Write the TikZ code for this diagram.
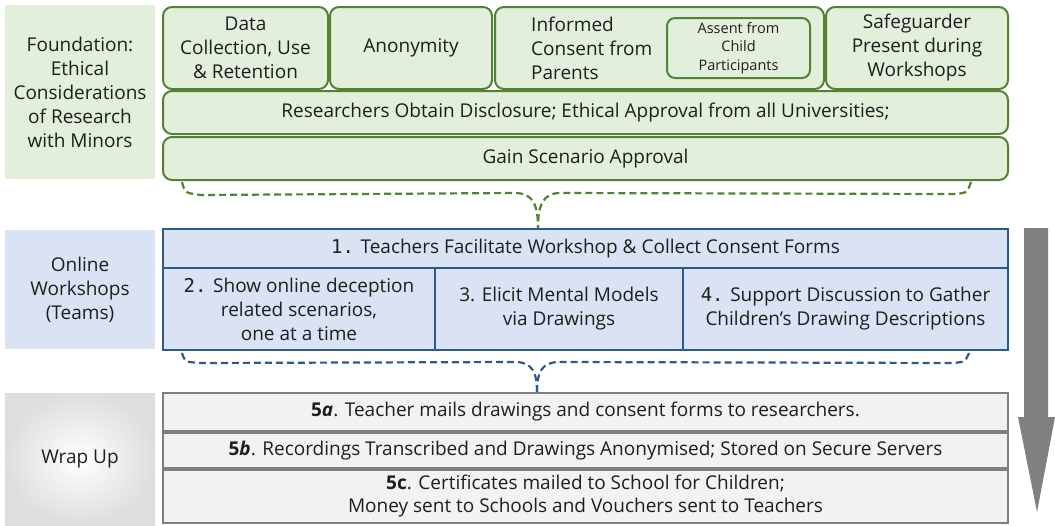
\documentclass[tikz,border=0pt]{standalone}
\usepackage{fontspec}
\setmainfont{Open Sans}
\newfontfamily\numfont{DejaVu Sans Mono}
\usepackage{xcolor}
\usepackage{tikz}
\usetikzlibrary{calc}
\definecolor{txt}{HTML}{1E1E1E}
\definecolor{gfill}{HTML}{E2EFDA}
\definecolor{gline}{HTML}{548235}
\definecolor{bfill}{HTML}{DAE3F3}
\definecolor{bline}{HTML}{2E5A8A}
\definecolor{wfill}{HTML}{F2F2F2}
\definecolor{wline}{HTML}{7F7F7F}
\definecolor{arrowc}{HTML}{808080}
\newcommand{\stepno}[1]{{\numfont #1.}\hspace{0.35em}}
\tikzset{
  lab/.style={text=txt, align=center, inner sep=0pt, font=\fontsize{19}{24}\selectfont},
  side/.style={lab, minimum width=150, anchor=center},
  gbox/.style={lab, draw=gline, fill=gfill, line width=2pt, rounded corners=9pt},
  bbox/.style={lab, draw=bline, fill=bfill, line width=2pt},
  wbox/.style={lab, draw=wline, fill=wfill, line width=1.6pt},
  gdash/.style={draw=gline, dash pattern=on 7pt off 4pt, line width=2.2pt},
  bdash/.style={draw=bline, dash pattern=on 7pt off 4pt, line width=2.2pt},
}

\begin{document}
\begin{tikzpicture}[x=1pt, y=-1pt]
  \useasboundingbox (0,0) rectangle (1055,525);
  % left column
  \node[side, fill=gfill, minimum height=174] (found) at (80,92)
    {Foundation:\\Ethical\\Considerations\\of Research\\with Minors};
  \node[side, fill=bfill, minimum height=119] (online) at (80,289.5)
    {Online\\Workshops\\(Teams)};
  \node[side, inner color=white, outer color=black!13, minimum height=132] (wrap) at (80,459)
    {Wrap Up};
  % foundation
  \node[gbox, minimum width=165, minimum height=82] (data) at (245.5,48)
    {Data\\Collection, Use\\\& Retention};
  \node[gbox, minimum width=162, minimum height=82] (anon) at (411,48) {Anonymity};
  \node[gbox, minimum width=329, minimum height=82] (consent) at (659.5,48) {};
  \node[lab, align=left, anchor=west] (consenttxt) at (531,48)
    {Informed\\Consent from\\Parents};
  \node[gbox, rounded corners=8pt, minimum width=143, minimum height=60,
    font=\fontsize{14.5}{18.5}\selectfont] (assent) at (738.5,48)
    {Assent from\\Child\\Participants};
  \node[gbox, minimum width=182, minimum height=82] (safe) at (917,48)
    {Safeguarder\\Present during\\Workshops};
  \node[gbox, minimum width=845, minimum height=43] (disc) at (585.5,112.5)
    {Researchers Obtain Disclosure; Ethical Approval from all Universities;};
  \node[gbox, minimum width=845, minimum height=43] (gain) at (585.5,158.5)
    {Gain Scenario Approval};
  % workshops
  \node[bbox, minimum width=845, minimum height=39] (step1) at (585.5,248.5)
    {\stepno{1}Teachers Facilitate Workshop \& Collect Consent Forms};
  \node[bbox, minimum width=272, minimum height=82] (step2) at (299,309)
    {\stepno{2}Show online deception\\related scenarios,\\one at a time};
  \node[bbox, minimum width=248, minimum height=82] (step3) at (559,309)
    {3. Elicit Mental Models\\via Drawings};
  \node[bbox, minimum width=325, minimum height=82] (step4) at (845.5,309)
    {\stepno{4}Support Discussion to Gather\\Children’s Drawing Descriptions};
  % wrap up
  \node[wbox, minimum width=845, minimum height=38] (s5a) at (585.5,412)
    {\textbf{5\textit{a}}. Teacher mails drawings and consent forms to researchers.};
  \node[wbox, minimum width=845, minimum height=35] (s5b) at (585.5,450.5)
    {\textbf{5\textit{b}}. Recordings Transcribed and Drawings Anonymised; Stored on Secure Servers};
  \node[wbox, minimum width=845, minimum height=53, font=\fontsize{19}{23}\selectfont] (s5c) at (585.5,496.5)
    {\textbf{5c}. Certificates mailed to School for Children;\\Money sent to Schools and Vouchers sent to Teachers};
  % braces
  \coordinate (gl) at ($(gain.south west)+(20,1)$);
  \coordinate (gr) at ($(gain.south east)+(-38,1)$);
  \coordinate (gt) at (step1.north -| 538,0);
  \draw[gdash] (gl) .. controls ++(3,11) .. ++(19,13) -- (515,193)
    .. controls (533,193) and (538,205) .. (gt);
  \draw[gdash] (gr) .. controls ++(-4,11) .. ++(-17,12) -- (560,193)
    .. controls (543,193) and (538,205) .. (gt);
  \coordinate (bl) at ($(step2.south west)+(20,2)$);
  \coordinate (br) at ($(step4.south east)+(-40,2)$);
  \coordinate (bt) at (s5a.north -| 537,0);
  \draw[bdash] (bl) .. controls ++(3,9) .. ++(19,10) -- (515,362)
    .. controls (532,362) and (537,372) .. (bt);
  \draw[bdash] (br) .. controls ++(-4,9) .. ++(-17,10) -- (559,362)
    .. controls (542,362) and (537,372) .. (bt);
  % timeline arrow
  \fill[arrowc] (1024,228) -- (1048,228) -- (1048,417) -- (1055,417)
    -- (1037,512) -- (1018,417) -- (1024,417) -- cycle;
\end{tikzpicture}
\end{document}
